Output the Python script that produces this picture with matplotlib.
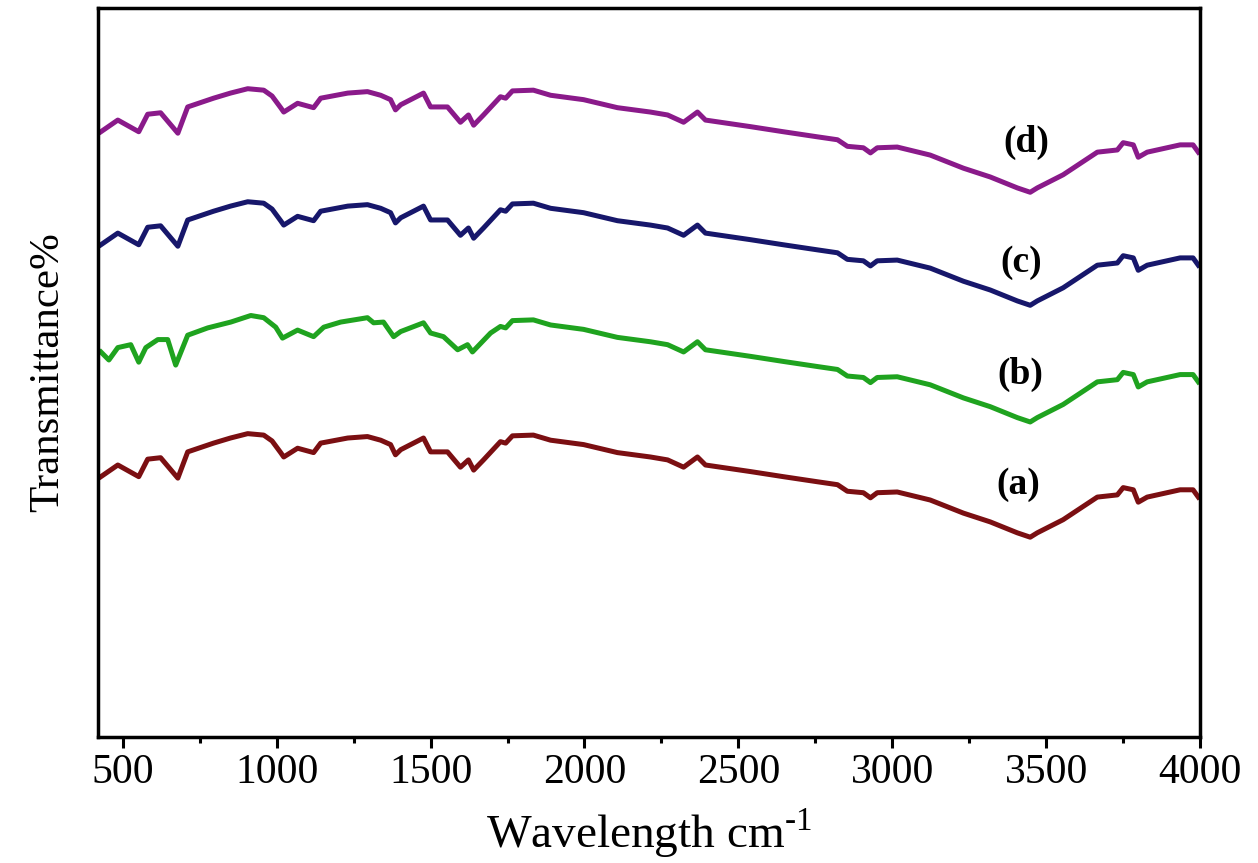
import matplotlib
matplotlib.use('Agg')
from matplotlib import pyplot as plt
from matplotlib.ticker import MultipleLocator

plt.rcParams['font.family'] = ['Liberation Serif', 'DejaVu Serif']
plt.rcParams['mathtext.fontset'] = 'custom'
plt.rcParams['mathtext.rm'] = 'Liberation Serif'

# FTIR spectra (wavenumber cm-1, transmittance in arbitrary stacked units)
wn_a = [429, 484, 552, 581, 623, 679, 711, 795, 850, 906, 958, 985, 1013, 1023, 1068, 1120, 1143,
        1231, 1295, 1338, 1370, 1386, 1403, 1477, 1500, 1555, 1597, 1623, 1640, 1672,
        1727, 1744, 1766, 1834, 1890, 1997, 2107, 2214, 2270, 2322, 2367, 2393, 2539,
        2646, 2757, 2822, 2854, 2906, 2929, 2951, 3016, 3123, 3231, 3318, 3406, 3448,
        3471, 3555, 3666, 3731, 3750, 3783, 3799, 3828, 3935, 3977, 3994]
t_a = [35.7, 37.3, 35.7, 38.1, 38.3, 35.5, 39.1, 40.3, 41.0, 41.6, 41.4, 40.6, 39.0, 38.4, 39.6, 39.0, 40.3,
       41.0, 41.2, 40.7, 40.1, 38.7, 39.4, 41.0, 39.1, 39.1, 37.0, 38.0, 36.6, 38.0,
       40.5, 40.3, 41.3, 41.4, 40.7, 40.1, 39.0, 38.4, 38.0, 37.0, 38.4, 37.3, 36.4,
       35.7, 35.0, 34.6, 33.7, 33.5, 32.8, 33.5, 33.6, 32.5, 30.7, 29.5, 28.0, 27.4,
       28.0, 29.8, 32.9, 33.2, 34.2, 33.9, 32.2, 32.9, 33.9, 33.9, 32.9]

wn_b = [429, 455, 484, 526, 552, 575, 614, 646, 672, 711, 776, 851, 916, 958, 997, 1019,
        1068, 1120, 1153, 1208, 1295, 1315, 1347, 1380, 1403, 1477, 1500, 1542, 1588,
        1620, 1636, 1695, 1727, 1744, 1766, 1834, 1890, 1997, 2107, 2214, 2270, 2322,
        2367, 2393, 2539, 2646, 2757, 2822, 2854, 2906, 2929, 2951, 3016, 3123, 3231,
        3318, 3406, 3448, 3471, 3555, 3666, 3731, 3750, 3783, 3799, 3828, 3935, 3977, 3994]
t_b = [52.8, 51.7, 53.4, 53.8, 51.4, 53.4, 54.5, 54.5, 51.0, 55.1, 56.1, 56.9, 57.8, 57.5, 56.2, 54.7,
       55.8, 54.9, 56.2, 56.9, 57.5, 56.8, 56.9, 54.9, 55.6, 56.8, 55.4, 54.9, 53.1,
       53.8, 52.8, 55.4, 56.3, 56.1, 57.1, 57.2, 56.5, 55.9, 54.8, 54.2, 53.8, 52.8,
       54.2, 53.1, 52.2, 51.5, 50.8, 50.4, 49.5, 49.3, 48.6, 49.3, 49.4, 48.3, 46.5,
       45.3, 43.8, 43.2, 43.8, 45.6, 48.7, 49.0, 50.0, 49.7, 48.0, 48.7, 49.7, 49.7, 48.7]

wn_c = wn_a
t_c = [67.5, 69.1, 67.5, 69.9, 70.1, 67.3, 70.9, 72.1, 72.8, 73.4, 73.2, 72.4, 70.8, 70.2, 71.4, 70.8, 72.1,
       72.8, 73.0, 72.5, 71.9, 70.5, 71.2, 72.8, 70.9, 70.9, 68.8, 69.8, 68.4, 69.8,
       72.3, 72.1, 73.1, 73.2, 72.5, 71.9, 70.8, 70.2, 69.8, 68.8, 70.2, 69.1, 68.2,
       67.5, 66.8, 66.4, 65.5, 65.3, 64.6, 65.3, 65.4, 64.3, 62.5, 61.3, 59.8, 59.2,
       59.8, 61.6, 64.7, 65.0, 66.0, 65.7, 64.0, 64.7, 65.7, 65.7, 64.7]

wn_d = wn_a
t_d = [83.0, 84.6, 83.0, 85.4, 85.6, 82.8, 86.4, 87.6, 88.3, 88.9, 88.7, 87.9, 86.3, 85.7, 86.9, 86.3, 87.6,
       88.3, 88.5, 88.0, 87.4, 86.0, 86.7, 88.3, 86.4, 86.4, 84.3, 85.3, 83.9, 85.3,
       87.8, 87.6, 88.6, 88.7, 88.0, 87.4, 86.3, 85.7, 85.3, 84.3, 85.7, 84.6, 83.7,
       83.0, 82.3, 81.9, 81.0, 80.8, 80.1, 80.8, 80.9, 79.8, 78.0, 76.8, 75.3, 74.7,
       75.3, 77.1, 80.2, 80.5, 81.5, 81.2, 79.5, 80.2, 81.2, 81.2, 80.2]

labels = ['(a)', '(b)', '(c)', '(d)']
label_x = [3410, 3415, 3420, 3435]
label_y = [34.6, 49.7, 65.0, 81.5]
colors = ['#7b0f12', '#1fa31f', '#17176b', '#8a1a8a']

fig = plt.figure(figsize=(12.58, 8.63), dpi=100)
ax = fig.add_axes([0.078, 0.146, 0.876, 0.845])

for wn, t, c in zip([wn_a, wn_b, wn_c, wn_d], [t_a, t_b, t_c, t_d], colors):
    ax.plot(wn, t, color=c, lw=3.6, solid_joinstyle='round')

for lab, lx, ly in zip(labels, label_x, label_y):
    ax.text(lx, ly, lab, fontsize=27, fontweight='bold', ha='center', va='center')

ax.set_xlim(420, 4000)
ax.set_ylim(0, 100)
ax.xaxis.set_major_locator(MultipleLocator(500))
ax.xaxis.set_minor_locator(MultipleLocator(250))
ax.tick_params(axis='x', which='major', direction='out', length=8, width=2.2,
               labelsize=30, pad=4)
ax.tick_params(axis='x', which='minor', direction='out', length=4, width=2.2)
ax.tick_params(axis='y', left=False, labelleft=False)
for s in ax.spines.values():
    s.set_linewidth(2.5)

ax.set_xlabel('Wavelength cm$^{\\text{-}1}$', fontsize=34, labelpad=10)
ax.set_ylabel('Transmittance%', fontsize=31, labelpad=22)

fig.savefig('out.png', dpi=100)
